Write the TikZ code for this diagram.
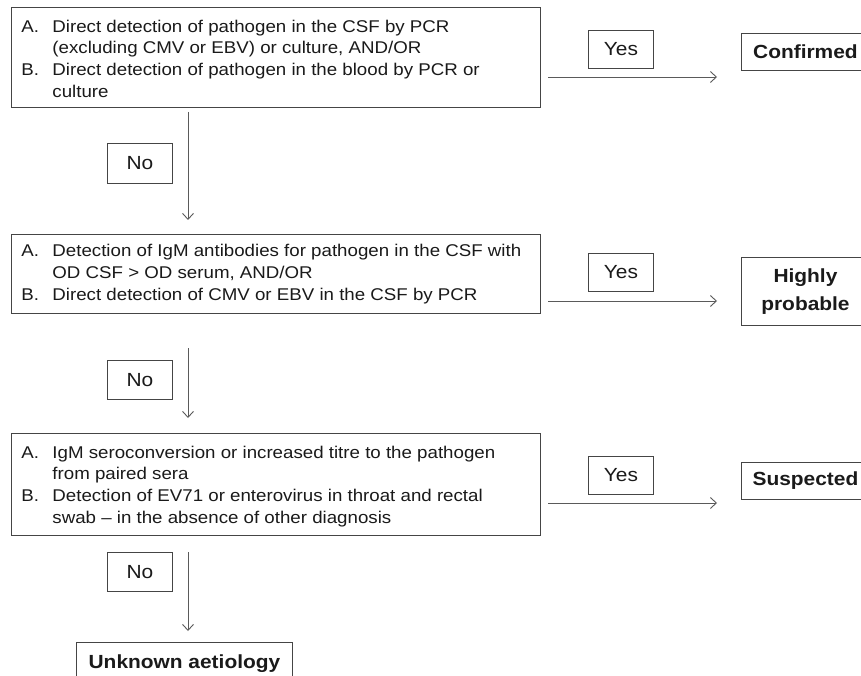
\documentclass[tikz,border=0pt]{standalone}
\usepackage{fontspec}
\setmainfont{Liberation Sans}[FakeStretch=1.1]
\usetikzlibrary{arrows.meta}
\definecolor{ln}{HTML}{5A5A5A}
\definecolor{bx}{HTML}{454545}
\definecolor{tx}{HTML}{1A1A1A}
\newcommand\crittab[2][0pt]{\raisebox{#1}[\height][\depth]{\fontsize{17}{21.8}\selectfont\begin{tabular}{@{}p{31pt}@{}p{478pt}@{}}#2\end{tabular}}}
\begin{document}
\begin{tikzpicture}[x=1pt,y=-1pt,
  crit/.style={draw=bx, line width=0.9pt, anchor=north west, inner sep=0pt, text=tx, minimum width=529pt},
  lab/.style={draw=bx, line width=0.8pt, anchor=north west, inner sep=0pt, minimum width=65pt, minimum height=38pt, text=tx, font=\fontsize{19}{22}\selectfont},
  res/.style={draw=bx, line width=0.9pt, anchor=north west, inner sep=0pt, text=tx, align=center, minimum width=128pt, font=\fontsize{19}{28}\selectfont\bfseries},
  arr/.style={draw=ln, line width=0.9pt, -{Straight Barb[length=6pt,width=11pt]}}]
\useasboundingbox[fill=white] (0,0) rectangle (861,676);
% criteria boxes
\node[crit, minimum height=100pt] (c1) at (11,7) {\crittab[-3pt]{A. & Direct detection of pathogen in the CSF by PCR\\ & (excluding CMV or EBV) or culture, AND/OR\\ B. & Direct detection of pathogen in the blood by PCR or\\ & culture}};
\node[crit, minimum height=79pt] (c2) at (11,234) {\crittab{A. & Detection of IgM antibodies for pathogen in the CSF with\\ & OD CSF > OD serum, AND/OR\\ B. & Direct detection of CMV or EBV in the CSF by PCR}};
\node[crit, minimum height=102pt] (c3) at (11,433) {\crittab[-2pt]{A. & IgM seroconversion or increased titre to the pathogen\\ & from paired sera\\ B. & Detection of EV71 or enterovirus in throat and rectal\\ & swab -- in the absence of other diagnosis}};
% yes / no labels
\node[lab] (y1) at (588,30) {Yes};
\node[lab] (y2) at (588,253) {Yes};
\node[lab] (y3) at (588,456) {Yes};
\node[lab, minimum height=40pt] (n1) at (107,143) {No};
\node[lab, minimum height=39pt] (n2) at (107,360) {No};
\node[lab, minimum height=39pt] (n3) at (107,552) {No};
% results
\node[res, minimum height=37pt] (r1) at (741,33) {Confirmed};
\node[res, minimum height=68pt] (r2) at (741,257) {Highly\\probable};
\node[res, minimum height=37pt] (r3) at (741,462) {Suspected};
\node[res, minimum width=216pt, minimum height=42pt] (r4) at (76,642) {Unknown aetiology};
% connectors
\coordinate (h1) at (548,77);
\coordinate (h2) at (548,301);
\coordinate (h3) at (548,503);
\draw[arr] (h1) -- ([xshift=-24pt]h1 -| r1.west);
\draw[arr] (h2) -- ([xshift=-24pt]h2 -| r2.west);
\draw[arr] (h3) -- ([xshift=-24pt]h3 -| r3.west);
\coordinate (v1) at (188,112);
\coordinate (v2) at (188,348);
\coordinate (v3) at (188,552);
\draw[arr] (v1) -- ([yshift=14pt]v1 |- c2.north);
\draw[arr] (v2) -- ([yshift=15pt]v2 |- c3.north);
\draw[arr] (v3) -- ([yshift=11pt]v3 |- r4.north);
\end{tikzpicture}
\end{document}
